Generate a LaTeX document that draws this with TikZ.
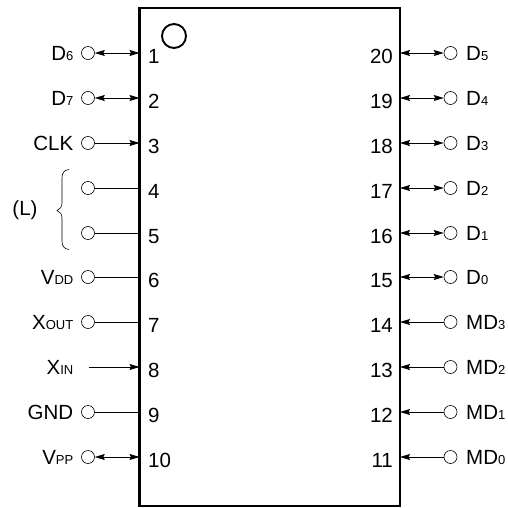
\documentclass[tikz,border=0pt]{standalone}
\usepackage{fontspec}
\setmainfont{Liberation Sans}
\usetikzlibrary{arrows.meta}
\newcommand{\low}[1]{{\fontsize{13}{15}\selectfont #1}}
\tikzset{
	pinhole/.style={draw, circle, minimum size=13pt, inner sep=0pt, line width=0.6pt},
	pinnum/.style={font=\fontsize{20.5}{22}\selectfont, inner sep=0pt},
	pinlabel/.style={font=\fontsize{20.5}{22}\selectfont, inner sep=0pt},
	plainwire/.style={line width=0.8pt},
	tochip/.style={line width=0.8pt, -{Stealth[length=10pt,width=6pt,inset=1.5pt]}},
	bothway/.style={line width=0.8pt, {Stealth[length=10pt,width=6pt,inset=1.5pt]}-{Stealth[length=10pt,width=6pt,inset=1.5pt]}},
}

\begin{document}
\begin{tikzpicture}[x=1pt, y=-1pt]
		%%%%% START %%%%%
		\useasboundingbox (0, 0) rectangle (508, 508);
		
		\draw[line width=2.3pt] (139.5, 8) rectangle (400, 506);
		\draw[line width=1.9pt] (174, 36) circle (12);
		
		% left side
		\foreach \n/\y/\lab/\kind in {1/53/D\low{6}/bothway, 2/98/D\low{7}/bothway, 3/143/CLK/tochip, 4/188//plainwire, 5/233//plainwire, 6/277/V\low{DD}/plainwire, 7/322/X\low{OUT}/plainwire, 9/412/GND/plainwire, 10/457/V\low{PP}/bothway} {
			\coordinate (pin\n) at (139.5, \y);
			\node[pinhole] (hole\n) at (88, \y) {};
			\node[pinlabel, anchor=base east] (name\n) at (73.5, \y+7.5) {\lab};
			\node[pinnum, anchor=base west] (num\n) at (148, \y+10.5) {\n};
			\draw[\kind] (hole\n) -- (pin\n);
		}
		
		% pin 8 has no hole
		\coordinate (pin8) at (139.5, 367);
		\coordinate (hole8) at (89, 367);
		\node[pinlabel, anchor=base east] (name8) at (73.5, 374.5) {X\low{IN}};
		\node[pinnum, anchor=base west] (num8) at (148, 377.5) {8};
		\draw[tochip] (hole8) -- (pin8);
		
		% right side
		\foreach \n/\y/\lab/\kind in {20/53/D\low{5}/bothway, 19/98/D\low{4}/bothway, 18/143/D\low{3}/bothway, 17/188/D\low{2}/bothway, 16/233/D\low{1}/bothway, 15/277/D\low{0}/bothway, 14/322/MD\low{3}/tochip, 13/367/MD\low{2}/tochip, 12/412/MD\low{1}/tochip, 11/457/MD\low{0}/tochip} {
			\coordinate (pin\n) at (400, \y);
			\node[pinhole] (hole\n) at (450.5, \y) {};
			\node[pinlabel, anchor=base west] (name\n) at (466, \y+7.5) {\lab};
			\node[pinnum, anchor=base east] (num\n) at (393, \y+10.5) {\n};
			\draw[\kind] (hole\n) -- (pin\n);
		}
		
		% brace
		\draw[line width=0.6pt] (69, 169.5) .. controls (64, 170) and (62, 173) .. (62, 178) -- (62, 203) .. controls (62, 207) and (60, 209) .. (57, 210.5) .. controls (60, 212) and (62, 214) .. (62, 218) -- (62, 241) .. controls (62, 246) and (64, 249) .. (69, 249.5);
		\node[pinlabel] (lowpins) at (25, 210) {(L)};
		%%%%% END %%%%%
	\end{tikzpicture}
\end{document}
